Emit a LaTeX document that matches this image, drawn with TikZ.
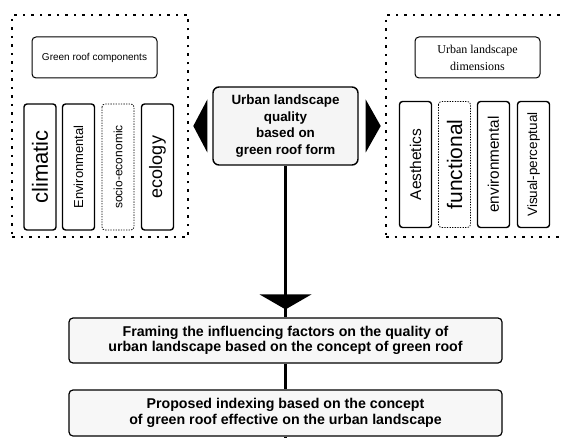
\documentclass[tikz,border=0pt]{standalone}
\usepackage{fontspec}
\setmainfont{Liberation Sans}
\newfontfamily\dimfont{Liberation Serif}
\usetikzlibrary{positioning}

\begin{document}
\begin{tikzpicture}[
    x=1pt, y=-1pt,
    frame/.style={draw, line width=2pt, dash pattern=on 2.5pt off 6pt, minimum width=176pt, minimum height=222pt},
    titlebox/.style={draw, rounded corners=4pt, line width=1pt, minimum width=125pt, minimum height=41pt, align=center, inner sep=2pt},
    pillar/.style={draw, rounded corners=3pt, line width=1.4pt, rotate=90, minimum width=126pt, minimum height=32pt, inner sep=0pt},
    softpillar/.style={pillar, line width=0.8pt, dash pattern=on 1.3pt off 1.3pt},
    core/.style={draw, fill=gray!8, rounded corners=6pt, line width=1.4pt, minimum width=145pt, minimum height=78pt, align=center, inner sep=0pt, font=\bfseries\fontsize{13.4}{16.5}\selectfont},
    stage/.style={draw, fill=gray!6, rounded corners=4pt, line width=1.2pt, minimum width=433pt, minimum height=45pt, align=center, inner sep=0pt, font=\bfseries\fontsize{14.2}{15.5}\selectfont},
    link/.style={line width=2.4pt}
]
\useasboundingbox (0,0) rectangle (561,438);

% left frame: green roof
\node[frame] (lframe) at (100,126) {};
\node[titlebox, font=\fontsize{10}{12}\selectfont] (ltitle) at (94.5,57.5) {Green roof components};
\node[pillar, font=\fontsize{22}{22}\selectfont] (clim) at (40,167) {climatic};
\node[pillar, font=\fontsize{13}{13}\selectfont] (envl) at (78.5,167) {Environmental};
\node[softpillar, font=\fontsize{12}{12}\selectfont] (socio) at (118,167) {socio-economic};
\node[pillar, font=\fontsize{18}{18}\selectfont] (eco) at (157.5,167) {ecology};

% right frame: urban landscape
\node[frame, minimum width=184pt] (rframe) at (478,126) {};
\node[titlebox, font=\dimfont\fontsize{12}{17}\selectfont] (rtitle) at (477.5,57.5) {Urban landscape\\dimensions};
\node[pillar, font=\fontsize{15.5}{15.5}\selectfont] (aes) at (415.5,164.5) {Aesthetics};
\node[softpillar, font=\fontsize{21}{21}\selectfont] (func) at (454.5,164.5) {functional};
\node[pillar, font=\fontsize{15.3}{15.3}\selectfont] (envr) at (493.5,164.5) {environmental};
\node[pillar, font=\fontsize{13.5}{13.5}\selectfont] (vis) at (533.5,164.5) {Visual-perceptual};

% centre and stages
\node[core] (core) at (285.5,126) {Urban landscape\\quality\\based on\\green roof form};
\node[stage] (one) at (285.5,340.5) {Framing the influencing factors on the quality of\\urban landscape based on the concept of green roof};
\node[stage, minimum height=46pt] (two) at (285.5,413) {Proposed indexing based on the concept\\of green roof effective on the urban landscape};
\coordinate (out) at (285.5,445);

% side pointers
\fill ([xshift=-5pt]core.west) -- ++(0,-26.5) -- ++(-14,26.5) -- ++(14,26.5) -- cycle;
\fill ([xshift=7pt]core.east) -- ++(0,-26.5) -- ++(15,26.5) -- ++(-15,26.5) -- cycle;

% flow
\draw[link] (core.south) -- (one.north);
\fill ([yshift=8pt]one.north) -- ++(-26,-15) -- ++(52,0) -- cycle;
\draw[link] (one.south) -- (two.north);
\draw[link] (two.south) -- (out);
\end{tikzpicture}
\end{document}
